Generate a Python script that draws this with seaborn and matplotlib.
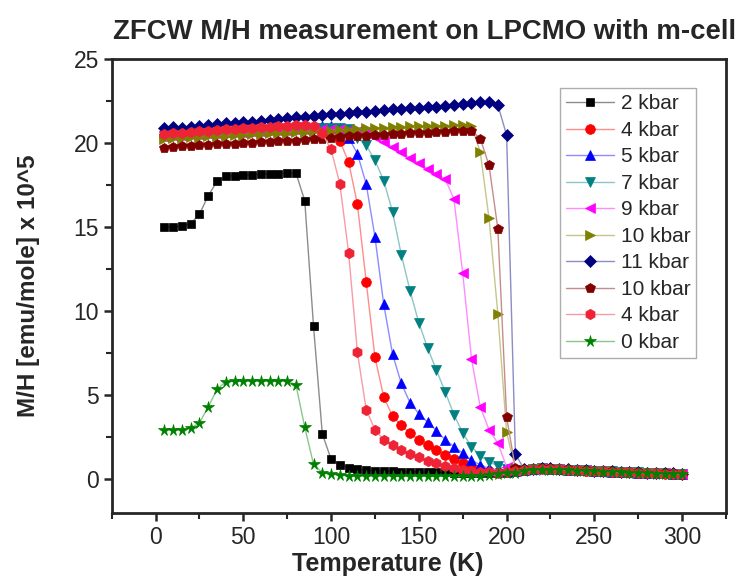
import matplotlib
matplotlib.use("Agg")
import matplotlib.pyplot as plt
from matplotlib.ticker import MultipleLocator
import matplotlib.colors as mcolors
import seaborn as sns
import pandas as pd

sns.set_style("ticks")
plt.rcParams['font.family'] = ['Liberation Sans', 'DejaVu Sans']

temperature = [5, 10, 15, 20, 25, 30, 35, 40, 45, 50,
               55, 60, 65, 70, 75, 80, 85, 90, 95, 100,
               105, 110, 115, 120, 125, 130, 135, 140, 145, 150,
               155, 160, 165, 170, 175, 180, 185, 190, 195, 200,
               205, 210, 215, 220, 225, 230, 235, 240, 245, 250,
               255, 260, 265, 270, 275, 280, 285, 290, 295, 300]

labels = ["2 kbar", "4 kbar", "5 kbar", "7 kbar", "9 kbar",
          "10 kbar", "11 kbar", "10 kbar", "4 kbar", "0 kbar"]

p2 = [15.0, 15.0, 15.05, 15.2, 15.75, 16.85, 17.7, 18.0, 18.05, 18.1,
      18.1, 18.12, 18.15, 18.15, 18.2, 18.2, 16.55, 9.1, 2.7, 1.2,
      0.85, 0.7, 0.6, 0.55, 0.52, 0.5, 0.48, 0.46, 0.45, 0.44,
      0.43, 0.42, 0.41, 0.4, 0.4, 0.39, 0.38, 0.38, 0.37, 0.38,
      0.42, 0.5, 0.56, 0.6, 0.6, 0.58, 0.56, 0.54, 0.52, 0.5,
      0.48, 0.46, 0.44, 0.42, 0.4, 0.38, 0.36, 0.35, 0.34, 0.33]
p4a = [20.45, 20.5, 20.52, 20.55, 20.58, 20.6, 20.62, 20.65, 20.68, 20.7,
       20.72, 20.75, 20.78, 20.8, 20.82, 20.85, 20.88, 20.9, 20.9, 20.8,
       20.1, 18.85, 16.35, 11.75, 7.25, 4.9, 3.75, 3.2, 2.75, 2.35,
       2.05, 1.75, 1.45, 1.2, 0.95, 0.75, 0.6, 0.5, 0.45, 0.45,
       0.48, 0.55, 0.62, 0.65, 0.63, 0.6, 0.58, 0.55, 0.52, 0.5,
       0.48, 0.46, 0.44, 0.42, 0.4, 0.38, 0.36, 0.35, 0.33, 0.32]
p5 = [20.6, 20.62, 20.65, 20.68, 20.7, 20.72, 20.75, 20.78, 20.8, 20.82,
      20.85, 20.88, 20.9, 20.92, 20.95, 20.97, 21.0, 21.0, 21.02, 21.0,
      20.9, 20.3, 19.35, 17.55, 14.4, 10.4, 7.45, 5.7, 4.55, 3.9,
      3.4, 2.9, 2.35, 1.95, 1.55, 1.15, 0.85, 0.65, 0.55, 0.5,
      0.5, 0.56, 0.62, 0.66, 0.64, 0.61, 0.58, 0.56, 0.53, 0.5,
      0.48, 0.46, 0.44, 0.42, 0.4, 0.38, 0.37, 0.35, 0.34, 0.33]
p7 = [20.4, 20.42, 20.45, 20.48, 20.5, 20.52, 20.55, 20.58, 20.6, 20.62,
      20.65, 20.68, 20.7, 20.72, 20.75, 20.78, 20.8, 20.82, 20.85, 20.85,
      20.85, 20.8, 20.3, 19.85, 18.95, 17.75, 15.9, 13.35, 11.2, 9.3,
      7.8, 6.5, 5.2, 3.85, 2.75, 1.95, 1.4, 1.05, 0.8, 0.6,
      0.55, 0.58, 0.63, 0.66, 0.64, 0.61, 0.58, 0.56, 0.53, 0.51,
      0.49, 0.47, 0.45, 0.43, 0.41, 0.39, 0.37, 0.35, 0.34, 0.33]
p9 = [20.35, 20.4, 20.42, 20.45, 20.48, 20.5, 20.52, 20.55, 20.58, 20.6,
      20.62, 20.65, 20.68, 20.7, 20.72, 20.75, 20.78, 20.8, 20.8, 20.82,
      20.8, 20.78, 20.7, 20.55, 20.35, 20.05, 19.75, 19.45, 19.1, 18.8,
      18.45, 18.15, 17.85, 16.65, 12.25, 7.15, 4.3, 2.95, 2.15, 0.75,
      0.5, 0.56, 0.62, 0.66, 0.64, 0.61, 0.58, 0.56, 0.53, 0.5,
      0.48, 0.46, 0.44, 0.42, 0.4, 0.38, 0.37, 0.35, 0.34, 0.33]
p10a = [20.25, 20.28, 20.3, 20.33, 20.35, 20.38, 20.4, 20.42, 20.45, 20.48,
        20.5, 20.52, 20.55, 20.58, 20.6, 20.62, 20.65, 20.68, 20.7, 20.72,
        20.75, 20.78, 20.8, 20.85, 20.88, 20.9, 20.92, 20.95, 20.98, 21.0,
        21.0, 21.02, 21.02, 21.05, 21.05, 21.0, 19.45, 15.5, 9.85, 2.8,
        0.6, 0.58, 0.63, 0.66, 0.64, 0.61, 0.58, 0.56, 0.53, 0.51,
        0.49, 0.47, 0.45, 0.43, 0.41, 0.39, 0.37, 0.35, 0.34, 0.33]
p11 = [20.9, 20.95, 20.9, 20.95, 21.0, 21.05, 21.1, 21.15, 21.2, 21.22,
       21.25, 21.3, 21.35, 21.4, 21.45, 21.5, 21.55, 21.6, 21.65, 21.7,
       21.72, 21.75, 21.8, 21.85, 21.9, 21.95, 21.98, 22.0, 22.05, 22.08,
       22.1, 22.15, 22.2, 22.25, 22.3, 22.35, 22.4, 22.4, 22.25, 20.45,
       1.5, 0.6, 0.64, 0.67, 0.65, 0.62, 0.59, 0.57, 0.54, 0.52,
       0.5, 0.48, 0.46, 0.44, 0.42, 0.4, 0.38, 0.36, 0.35, 0.34]
p10b = [19.7, 19.75, 19.8, 19.82, 19.85, 19.88, 19.9, 19.92, 19.95, 19.98,
        20.0, 20.02, 20.05, 20.08, 20.1, 20.12, 20.15, 20.2, 20.25, 20.3,
        20.35, 20.38, 20.4, 20.42, 20.45, 20.48, 20.5, 20.52, 20.55, 20.58,
        20.6, 20.62, 20.65, 20.68, 20.7, 20.72, 20.25, 18.65, 14.9, 3.7,
        0.65, 0.6, 0.64, 0.67, 0.65, 0.62, 0.59, 0.57, 0.54, 0.52,
        0.5, 0.48, 0.46, 0.44, 0.42, 0.4, 0.38, 0.36, 0.35, 0.34]
p4b = [20.5, 20.55, 20.6, 20.65, 20.7, 20.72, 20.75, 20.8, 20.82, 20.85,
       20.9, 20.92, 20.95, 21.0, 21.02, 21.05, 21.05, 21.0, 20.55, 19.6,
       17.55, 13.45, 7.55, 4.15, 2.95, 2.35, 2.05, 1.75, 1.5, 1.3,
       1.1, 0.95, 0.8, 0.65, 0.55, 0.5, 0.45, 0.42, 0.4, 0.42,
       0.47, 0.54, 0.6, 0.63, 0.62, 0.59, 0.57, 0.54, 0.51, 0.49,
       0.47, 0.45, 0.43, 0.41, 0.39, 0.37, 0.35, 0.34, 0.32, 0.31]
p0 = [2.95, 2.95, 2.95, 3.05, 3.35, 4.3, 5.35, 5.8, 5.85, 5.85,
      5.85, 5.85, 5.85, 5.85, 5.85, 5.6, 3.1, 0.9, 0.4, 0.3,
      0.25, 0.22, 0.22, 0.2, 0.2, 0.2, 0.2, 0.2, 0.2, 0.2,
      0.2, 0.2, 0.2, 0.2, 0.2, 0.2, 0.22, 0.25, 0.3, 0.35,
      0.4, 0.48, 0.55, 0.58, 0.58, 0.56, 0.54, 0.52, 0.5, 0.48,
      0.46, 0.44, 0.42, 0.4, 0.38, 0.36, 0.34, 0.32, 0.3, 0.3]

series = [p2, p4a, p5, p7, p9, p10a, p11, p10b, p4b, p0]
colors = ["#000000", "#FF0000", "#0000FF", "#008080", "#FF00FF",
          "#808000", "#000080", "#800000", "#EE2436", "#008000"]
markers = ["s", "o", "^", "v", "<", ">", "D", "p", "h", "*"]
msizes = [5.5, 7, 7, 7, 7, 7, 6, 7.5, 7.5, 8.5]

fig = plt.figure(figsize=(7.46, 5.8), dpi=100)
ax = fig.add_axes([0.1497, 0.1155, 0.8235, 0.7835])

for vals, lab, c, m, ms in zip(series, labels, colors, markers, msizes):
    rgb = mcolors.to_rgb(c)
    light = tuple(v * 0.45 + 0.55 for v in rgb)
    df = pd.DataFrame({"T": temperature, "MH": vals})
    sns.lineplot(data=df, x="T", y="MH", ax=ax, color=light, lw=1.0,
                 marker=m, markersize=ms, markerfacecolor=c,
                 markeredgecolor=c, markeredgewidth=0.5, label=lab,
                 sort=False, estimator=None)

ax.set_xlim(-25, 325)
ax.set_ylim(-2, 25)
ax.xaxis.set_major_locator(MultipleLocator(50))
ax.xaxis.set_minor_locator(MultipleLocator(25))
ax.yaxis.set_major_locator(MultipleLocator(5))
ax.yaxis.set_minor_locator(MultipleLocator(2.5))
ax.tick_params(which="major", direction="out", length=6, width=1.8, labelsize=16.5, pad=3)
ax.tick_params(which="minor", direction="out", length=4, width=1.5)
for s in ax.spines.values():
    s.set_linewidth(2)
    s.set_visible(True)

ax.set_xlabel("Temperature (K)", fontsize=18, fontweight="bold", va="center")
ax.xaxis.set_label_coords(0.45, -0.112)
ax.set_ylabel("M/H [emu/mole] x 10^5", fontsize=17.5, fontweight="bold", va="center")
ax.yaxis.set_label_coords(-0.136, 0.50)
ax.set_title("ZFCW M/H measurement on LPCMO with m-cell", fontsize=19.8,
             fontweight="bold", x=0.51, y=1.025)

leg = ax.legend(loc="upper left", bbox_to_anchor=(0.73, 0.935), fontsize=15,
                frameon=True, fancybox=False, edgecolor="#999999",
                handlelength=2.3, labelspacing=0.36, borderpad=0.3,
                handletextpad=0.3, borderaxespad=0)
leg.get_frame().set_linewidth(1.0)

fig.savefig("out.png", dpi=100)
